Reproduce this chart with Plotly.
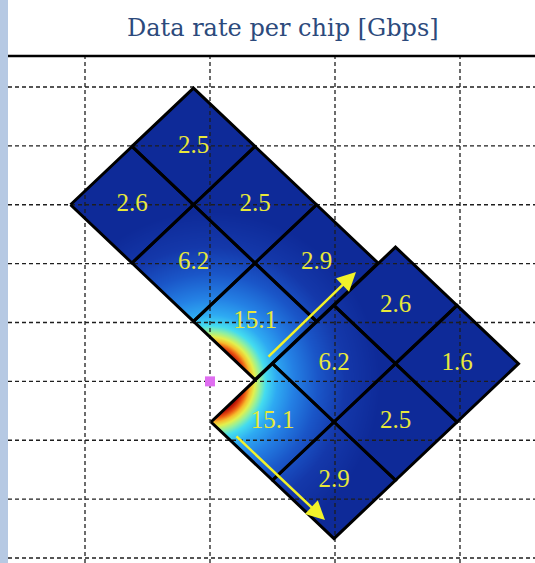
import numpy as np
import plotly.graph_objects as go

# ---- data -------------------------------------------------------------
rate_gbps = [2.6, 2.5, 2.5, 6.2, 2.9, 15.1, 2.6, 6.2, 1.6, 15.1, 2.5, 2.9]
chip_x = [0.376, 0.868, 1.36, 0.868, 1.852, 1.36, 2.484, 1.992, 2.976, 1.5, 2.484, 1.992]
chip_y = [2.0, 1.01, 2.0, 2.99, 2.99, 3.98, 3.71, 4.70, 4.70, 5.69, 5.69, 6.68]
source_x = [1.0]
source_y = [5.0]
arrow_tail_x = [1.456, 1.20]
arrow_tail_y = [4.603, 5.911]
arrow_head_x = [2.168, 1.92]
arrow_head_y = [3.142, 7.355]
x_ticks = [0, 1, 2, 3]
y_ticks = [0, 1, 2, 3, 4, 5, 6, 7, 8]

# ---- geometry / style -------------------------------------------------
W, H = 535, 563
ML, MT = 8, 56
XR = [-0.616, 3.6]
YR = [8.085, -0.5265]
PXX = (W - ML) / (XR[1] - XR[0])
PXY = (H - MT) / (YR[0] - YR[1])
HW, HH = 0.492, 0.99

fig = go.Figure()

# signal-strength shading inside chips
xs = np.arange(min(chip_x) - HW, max(chip_x) + HW, 1 / PXX)
ys = np.arange(min(chip_y) - HH, max(chip_y) + HH, 1 / PXY)
X, Y = np.meshgrid(xs, ys)
inside = np.zeros_like(X, dtype=bool)
for cx, cy in zip(chip_x, chip_y):
    inside |= (np.abs(X - cx) / HW + np.abs(Y - cy) / HH) <= 1.0
dist = np.sqrt(((X - source_x[0]) * PXX) ** 2 + ((Y - source_y[0]) * PXY) ** 2)
Z = np.where(inside, np.round(dist, 1), np.nan)

zmin, zmax = 30.0, 170.0
stops = [(30, '#8a0c00'), (33, '#c01808'), (37, '#ec5a12'), (41, '#f6bc2c'),
         (45, '#e2f04e'), (50, '#94f09c'), (56, '#44dcef'), (67, '#2eaaf2'),
         (84, '#2480e4'), (108, '#1a56c8'), (135, '#1438aa'), (170, '#0e2a98')]
cscale = [[(d - zmin) / (zmax - zmin), c] for d, c in stops]

fig.add_trace(go.Heatmap(x=xs, y=ys, z=Z, colorscale=cscale, zmin=zmin, zmax=zmax,
                         showscale=False, hoverinfo='skip', zsmooth=False))

# dashed grid on top
gx, gy = [], []
for t in x_ticks:
    gx += [t, t, None]
    gy += [YR[0], YR[1], None]
for t in y_ticks:
    gx += [XR[0], XR[1], None]
    gy += [t, t, None]
fig.add_trace(go.Scatter(x=gx, y=gy, mode='lines', hoverinfo='skip',
                         line=dict(color='#1e1e1e', width=1.3, dash='4px,3px')))

# chip outlines
ox, oy = [], []
for cx, cy in zip(chip_x, chip_y):
    ox += [cx - HW, cx, cx + HW, cx, cx - HW, None]
    oy += [cy, cy - HH, cy, cy + HH, cy, None]
fig.add_trace(go.Scatter(x=ox, y=oy, mode='lines', hoverinfo='skip',
                         line=dict(color='black', width=3)))

# labels
fig.add_trace(go.Scatter(x=chip_x, y=chip_y, mode='text',
                         text=[f"{v:.1f}" for v in rate_gbps],
                         textposition='middle center',
                         textfont=dict(family='Liberation Serif, Times New Roman, serif',
                                       size=25, color='#e8e83a'),
                         hoverinfo='skip'))

# source point
fig.add_trace(go.Scatter(x=source_x, y=source_y, mode='markers', hoverinfo='skip',
                         marker=dict(symbol='square', size=10, color='#df6ef0')))

annotations = []
for tx, ty, hx, hy in zip(arrow_tail_x, arrow_tail_y, arrow_head_x, arrow_head_y):
    annotations.append(dict(x=hx, y=hy, ax=tx, ay=ty, xref='x', yref='y',
                            axref='x', ayref='y', text='', showarrow=True,
                            arrowhead=2, arrowsize=1.5, arrowwidth=2.5,
                            arrowcolor='#f2f22a', standoff=0))
annotations.append(dict(text='Data rate per chip [Gbps]', xref='paper', yref='paper',
                        x=(282.5 - ML) / (W - ML), y=1 + (MT - 28) / (H - MT),
                        xanchor='center', yanchor='middle', showarrow=False,
                        font=dict(family='DejaVu Serif', size=24, color='#2c4a7c')))

shapes = [
    dict(type='rect', xref='paper', yref='paper', x0=-ML / (W - ML), x1=0,
         y0=-0.01, y1=1 + MT / (H - MT) + 0.01, fillcolor='#b6c9e3',
         line=dict(width=0), layer='above'),
    dict(type='line', xref='paper', yref='paper', x0=0, x1=1, y0=1, y1=1,
         line=dict(color='black', width=2.5), layer='above'),
]

fig.update_layout(
    width=W, height=H,
    margin=dict(l=ML, r=0, t=MT, b=0),
    paper_bgcolor='white', plot_bgcolor='white',
    showlegend=False,
    xaxis=dict(range=XR, visible=False, fixedrange=True),
    yaxis=dict(range=YR, visible=False, fixedrange=True),
    annotations=annotations, shapes=shapes,
)

fig.write_html("out.html", config={'displayModeBar': False},
               post_script="document.body.style.margin='0';document.body.style.padding='0';")
